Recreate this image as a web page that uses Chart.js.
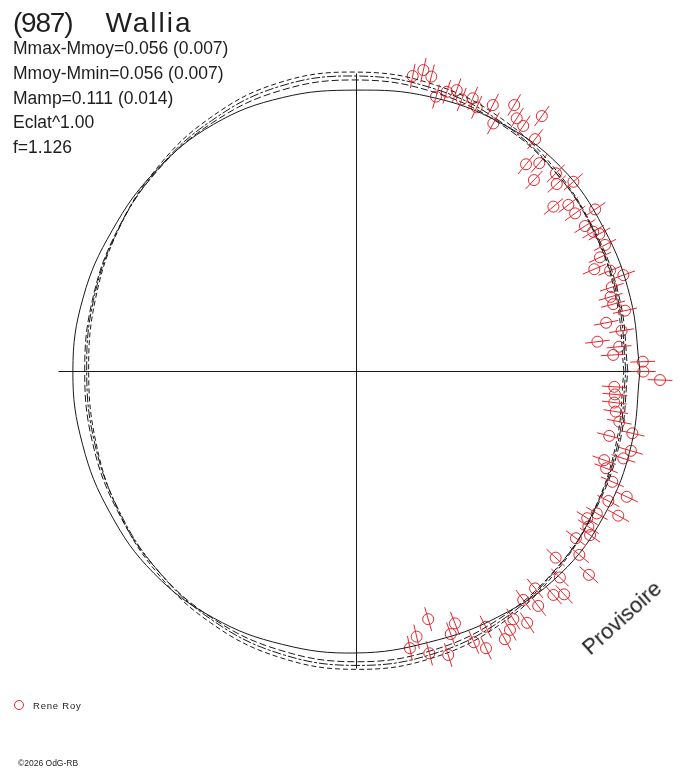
<!DOCTYPE html>
<html>
<head>
<meta charset="utf-8">
<script src="https://cdn.jsdelivr.net/npm/chart.js@4/dist/chart.umd.min.js"></script>
<style>
  html, body { margin: 0; padding: 0; background: #fff; }
  #wrap { position: relative; width: 688px; height: 768px; overflow: hidden; }
  #grafico { position: absolute; left: 0; top: 0; }
  .txt { position: absolute; white-space: nowrap; color: #1e1e1e;
         font-family: "Liberation Sans", Arial, sans-serif; }
  #titulo { left: 13px; top: 9px; font-size: 28px; line-height: 28px; }
  #titulo .num { letter-spacing: -1.2px; }
  #titulo .nome { letter-spacing: 2px; margin-left: 33px; }
  .info { left: 13px; font-size: 17.5px; line-height: 17.5px; }
  #leg-circ { position: absolute; left: 14px; top: 700px; width: 8px; height: 8px;
              border: 1px solid #e3262d; border-radius: 50%; }
  #leg-txt { left: 33px; top: 701px; font-size: 9.5px; line-height: 9.5px; letter-spacing: 0.8px; }
  #copy { left: 18px; top: 759px; font-size: 8.5px; line-height: 8.5px; }
  #prov { left: 622px; top: 618px; font-size: 22px; line-height: 22px;
          transform: translate(-50%, -50%) rotate(-42deg); }
</style>
</head>
<body>
<div id="wrap">
  <canvas id="grafico" width="688" height="768"></canvas>
  <div class="txt" id="titulo"><span class="num">(987)</span><span class="nome">Wallia</span></div>
  <div class="txt info" style="top:40px">Mmax-Mmoy=0.056 (0.007)</div>
  <div class="txt info" style="top:65px">Mmoy-Mmin=0.056 (0.007)</div>
  <div class="txt info" style="top:90px">Mamp=0.111 (0.014)</div>
  <div class="txt info" style="top:114px">Eclat^1.00</div>
  <div class="txt info" style="top:139px">f=1.126</div>
  <div id="leg-circ"></div>
  <div class="txt" id="leg-txt">Rene Roy</div>
  <div class="txt" id="copy">©2026 OdG-RB</div>
  <div class="txt" id="prov">Provisoire</div>
</div>
<script>
// ===============================
// DADOS - curvas (raio relativo por angulo de fase, graus)
// ===============================
const angulos = [0, 15, 30, 45, 60, 75, 90, 105, 120, 135, 150, 165,
                 180, 195, 210, 225, 240, 255, 270, 285, 300, 315, 330, 345];

const curvaA = [0.964, 0.969, 0.981, 0.998, 1.015, 1.027, 1.032, 1.030, 1.017, 1.000, 0.982, 0.968,
                0.962, 0.968, 0.980, 0.997, 1.014, 1.026, 1.031, 1.027, 1.015, 0.998, 0.981, 0.969];
const curvaB = [0.957, 0.963, 0.977, 0.999, 1.022, 1.039, 1.046, 1.045, 1.025, 1.002, 0.980, 0.964,
                0.955, 0.961, 0.975, 0.997, 1.020, 1.038, 1.044, 1.040, 1.024, 1.000, 0.978, 0.963];
const curvaC = [0.950, 0.957, 0.978, 1.005, 1.033, 1.053, 1.060, 1.058, 1.036, 1.007, 0.979, 0.958,
                0.948, 0.956, 0.977, 1.004, 1.031, 1.051, 1.058, 1.053, 1.033, 1.005, 0.977, 0.957];
const curvaSolida = [1.007, 1.007, 1.014, 1.025, 1.018, 1.007, 0.996, 1.004, 1.010, 1.004, 0.998, 1.002,
                     1.004, 1.004, 1.007, 1.014, 1.011, 1.004, 1.000, 0.996, 1.007, 1.021, 1.018, 1.011];

// ===============================
// DADOS - observacoes Rene Roy (x, y no plano polar)
// ===============================
const obsX = [0.201, 0.239, 0.267, 0.284, 0.322, 0.357, 0.375, 0.414, 0.428, 0.485,
              0.487, 0.561, 0.570, 0.593, 0.659, 0.635, 0.603, 0.650, 0.631, 0.709,
              0.712, 0.700, 0.753, 0.771, 0.777, 0.848, 0.812, 0.841, 0.863, 0.883,
              0.865, 0.845, 0.901, 0.948, 0.907, 0.903, 0.912, 0.954, 0.887, 0.942,
              0.856, 0.933, 0.912, 1.017, 1.019, 1.078, 0.916, 0.918, 0.916, 0.921,
              0.934, 0.898, 0.980, 0.975, 0.948, 0.880, 0.887, 0.909, 0.960, 0.895,
              0.930, 0.854, 0.820, 0.824, 0.830, 0.780, 0.792, 0.708, 0.826, 0.723,
              0.635, 0.700, 0.738, 0.593, 0.646, 0.558, 0.607, 0.546, 0.460, 0.528,
              0.418, 0.461, 0.351, 0.336, 0.256, 0.215, 0.191, 0.260, 0.327];
const obsY = [1.046, 1.067, 1.044, 0.973, 0.990, 0.996, 0.963, 0.967, 0.935, 0.943,
              0.878, 0.943, 0.896, 0.869, 0.904, 0.822, 0.733, 0.737, 0.677, 0.701,
              0.663, 0.583, 0.589, 0.671, 0.559, 0.573, 0.514, 0.494, 0.486, 0.447,
              0.403, 0.361, 0.356, 0.340, 0.297, 0.263, 0.237, 0.214, 0.171, 0.143,
              0.104, 0.086, 0.057, 0.033, -0.002, -0.032, -0.056, -0.083, -0.112, -0.144,
              -0.180, -0.230, -0.221, -0.283, -0.310, -0.316, -0.345, -0.393, -0.446, -0.461,
              -0.513, -0.505, -0.522, -0.552, -0.582, -0.593, -0.652, -0.662, -0.723, -0.732,
              -0.771, -0.794, -0.792, -0.812, -0.833, -0.880, -0.893, -0.918, -0.907, -0.951,
              -0.962, -0.983, -0.895, -0.933, -0.880, -0.942, -0.983, -1.001, -1.007];
const erroRadial = 0.044;

const limiteEixo = 1.055;   // comprimento dos eixos em cruz
const limiteEscala = 1.10;  // escala um pouco maior para nao cortar pontos
const vermelho = "#e3262d";
const preto = "#1a1a1a";

// ===============================
// CURVA FECHADA -> pontos x,y
// ===============================
function curvaParaPontos(raios) {
  const pts = [];
  for (let i = 0; i <= angulos.length; i++) {
    const k = i % angulos.length;
    const a = angulos[k] * Math.PI / 180;
    pts.push({ x: raios[k] * Math.cos(a), y: raios[k] * Math.sin(a) });
  }
  return pts;
}

function curvaDataset(raios, tracejado) {
  return {
    data: curvaParaPontos(raios),
    showLine: true,
    borderColor: preto,
    borderWidth: 1,
    borderDash: tracejado,
    pointRadius: 0,
    tension: 0.4,
    fill: false,
    clip: false
  };
}

// ===============================
// PLUGIN - eixos em cruz
// ===============================
const eixos = {
  id: "eixos",
  beforeDatasetsDraw(chart) {
    const { ctx, scales: { x, y } } = chart;
    const x0 = Math.round(x.getPixelForValue(0)) + 0.5;
    const y0 = Math.round(y.getPixelForValue(0)) + 0.5;
    ctx.save();
    ctx.strokeStyle = preto;
    ctx.lineWidth = 1;
    ctx.beginPath();
    ctx.moveTo(x.getPixelForValue(-limiteEixo), y0);
    ctx.lineTo(x.getPixelForValue(limiteEixo), y0);
    ctx.moveTo(x0, y.getPixelForValue(limiteEixo));
    ctx.lineTo(x0, y.getPixelForValue(-limiteEixo));
    ctx.stroke();
    ctx.restore();
  }
};

// ===============================
// PLUGIN - barras de erro radiais
// ===============================
const barrasErro = {
  id: "barrasErro",
  afterDatasetsDraw(chart) {
    const { ctx, scales: { x, y } } = chart;
    ctx.save();
    ctx.strokeStyle = vermelho;
    ctx.lineWidth = 1;
    ctx.beginPath();
    obsX.forEach((vx, i) => {
      const vy = obsY[i];
      const r = Math.hypot(vx, vy);
      const c = vx / r, s = vy / r;
      ctx.moveTo(x.getPixelForValue((r - erroRadial) * c), y.getPixelForValue((r - erroRadial) * s));
      ctx.lineTo(x.getPixelForValue((r + erroRadial) * c), y.getPixelForValue((r + erroRadial) * s));
    });
    ctx.stroke();
    ctx.restore();
  }
};

// ===============================
// GRAFICO
// ===============================
const ctx = document.getElementById("grafico").getContext("2d");

new Chart(ctx, {
  type: "scatter",
  data: {
    datasets: [
      curvaDataset(curvaSolida, []),
      curvaDataset(curvaA, [7, 3]),
      curvaDataset(curvaB, [9, 2, 3, 2]),
      curvaDataset(curvaC, [5, 3]),
      {
        label: "Rene Roy",
        data: obsX.map((vx, i) => ({ x: vx, y: obsY[i] })),
        pointStyle: "circle",
        pointRadius: 5.5,
        borderWidth: 1,
        borderColor: vermelho,
        backgroundColor: "rgba(0,0,0,0)",
        showLine: false,
        clip: false
      }
    ]
  },
  options: {
    responsive: false,
    animation: false,
    devicePixelRatio: 1,
    // centro em (356, 371), 282 px por unidade
    layout: { padding: { left: 45.8, right: 21.8, top: 60.8, bottom: 86.8 } },
    scales: {
      x: { type: "linear", min: -limiteEscala, max: limiteEscala, display: false },
      y: { type: "linear", min: -limiteEscala, max: limiteEscala, display: false }
    },
    plugins: {
      legend: { display: false },
      tooltip: { enabled: false }
    }
  },
  plugins: [eixos, barrasErro]
});
</script>
</body>
</html>
